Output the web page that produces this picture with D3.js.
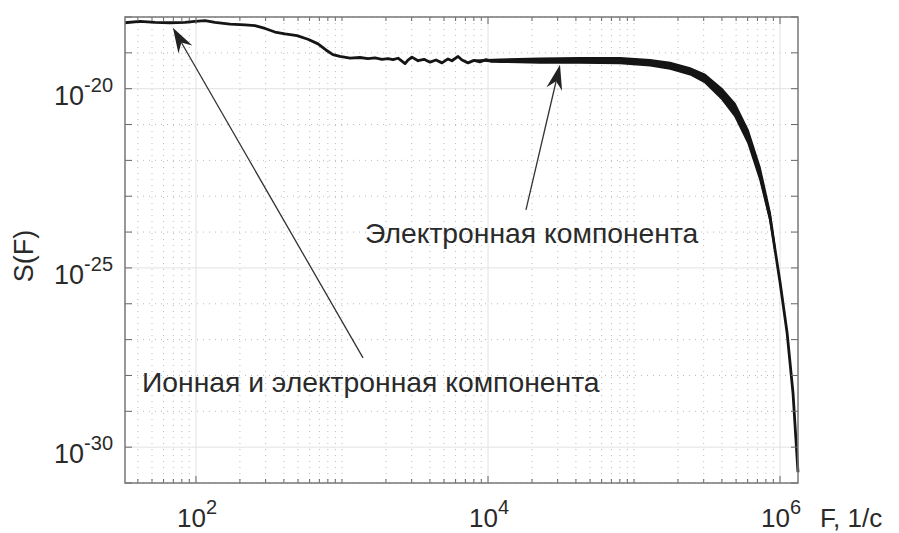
<!DOCTYPE html>
<html><head><meta charset="utf-8">
<script src="https://cdn.jsdelivr.net/npm/d3@7"></script>
<style>
body{margin:0;background:#fff;}
text{font-family:"Liberation Sans", Arial, sans-serif;fill:#2a2a2a;}
</style>
</head><body>
<svg id="c" width="899" height="533"></svg>
<script>
// ---- data (log10 values) ----
const logF = [1.514,1.616,1.719,1.822,1.925,1.993,2.062,2.130,2.233,2.336,2.404,2.473,2.541,2.610,2.692,2.767,2.836,2.890,2.938,2.986,3.055,3.123,3.178,3.226,3.274,3.315,3.349,3.384,3.432,3.452,3.479,3.521,3.562,3.603,3.644,3.685,3.726,3.753,3.795,3.822,3.863,3.904,3.945,3.986,4.027,4.082,4.356,4.630,4.904,5.110,5.247,5.384,5.486,5.603,5.692,5.781,5.863,5.932,5.966,6.000,6.048,6.089,6.123];
const logS = [-18.16,-18.12,-18.15,-18.16,-18.15,-18.12,-18.10,-18.15,-18.20,-18.22,-18.24,-18.32,-18.42,-18.47,-18.52,-18.62,-18.75,-18.92,-19.05,-19.10,-19.15,-19.13,-19.16,-19.14,-19.18,-19.16,-19.19,-19.15,-19.30,-19.20,-19.12,-19.22,-19.18,-19.26,-19.20,-19.28,-19.17,-19.22,-19.10,-19.20,-19.28,-19.21,-19.25,-19.19,-19.24,-19.22,-19.21,-19.20,-19.22,-19.27,-19.35,-19.51,-19.71,-20.15,-20.60,-21.35,-22.40,-23.60,-24.50,-25.40,-26.80,-28.50,-30.70];
// noise envelope of the dense high-frequency part
const bandLogF  = [3.904,4.082,4.356,4.630,4.904,5.110,5.247,5.384,5.486,5.603,5.692,5.781,5.863,5.932,5.966];
const bandUpper = [-19.21,-19.18,-19.15,-19.14,-19.14,-19.19,-19.27,-19.42,-19.60,-20.00,-20.42,-21.15,-22.20,-23.45,-24.45];
const bandLower = [-19.21,-19.26,-19.28,-19.28,-19.30,-19.36,-19.45,-19.61,-19.83,-20.30,-20.78,-21.52,-22.55,-23.70,-24.55];

const xDomainExp = [1.514, 6.123];
const yDomainExp = [-31, -18];
const xMajorExp = [2, 4, 6];
const yMajorExp = [-30, -25, -20];
const xLabel = "F, 1/c";
const yLabel = "S(F)";

// annotations
const annTexts = ["Электронная компонента", "Ионная и электронная компонента"];
const annTextExp = [[3.158, -24.30], [1.630, -28.46]];
const annTipExp  = [[4.493, -19.33], [1.842, -18.30]];
const annTailExp = [[4.260, -23.38], [3.144, -27.51]];

// ---- layout ----
const L = 125, R = 798, T = 17, B = 483;
const svg = d3.select("#c");
const x = d3.scaleLog().domain(xDomainExp.map(e => 10 ** e)).range([L, R]);
const y = d3.scaleLog().domain(yDomainExp.map(e => 10 ** e)).range([B, T]);

const data = logF.map((f, i) => ({F: 10 ** f, S: 10 ** logS[i]}));
const band = bandLogF.map((f, i) => ({F: 10 ** f, hi: 10 ** bandUpper[i], lo: 10 ** bandLower[i]}));

// tick sets
const xMinor = [], xMaj = [];
for (let e = 1; e <= 6; e++) {
  for (let m = 1; m <= 9; m++) {
    const v = m * 10 ** e;
    if (v < x.domain()[0] || v > x.domain()[1]) continue;
    if (m === 1 && xMajorExp.includes(e)) xMaj.push(v); else xMinor.push(v);
  }
}
const yMinor = [], yMaj = [];
for (let e = yDomainExp[0]; e <= yDomainExp[1]; e++) {
  const v = 10 ** e;
  if (yMajorExp.includes(e)) yMaj.push(v); else yMinor.push(v);
}

// grid
const g = svg.append("g");
g.selectAll(".gxm").data(xMinor).enter().append("line")
  .attr("x1", d => x(d)).attr("x2", d => x(d)).attr("y1", T).attr("y2", B)
  .attr("stroke", "#bbb").attr("stroke-width", 1).attr("stroke-dasharray", "1,5");
g.selectAll(".gym").data(yMinor).enter().append("line")
  .attr("y1", d => y(d)).attr("y2", d => y(d)).attr("x1", L).attr("x2", R)
  .attr("stroke", "#bbb").attr("stroke-width", 1).attr("stroke-dasharray", "1,5");
g.selectAll(".gxM").data(xMaj).enter().append("line")
  .attr("x1", d => x(d)).attr("x2", d => x(d)).attr("y1", T).attr("y2", B)
  .attr("stroke", "#e2e2e2").attr("stroke-width", 1);
g.selectAll(".gyM").data(yMaj).enter().append("line")
  .attr("y1", d => y(d)).attr("y2", d => y(d)).attr("x1", L).attr("x2", R)
  .attr("stroke", "#e2e2e2").attr("stroke-width", 1);

// band + curve
svg.append("path").datum(band)
  .attr("d", d3.area().x(d => x(d.F)).y0(d => y(d.lo)).y1(d => y(d.hi)))
  .attr("fill", "#151515").attr("stroke", "#151515").attr("stroke-width", 1.5);
svg.append("path").datum(data)
  .attr("d", d3.line().x(d => x(d.F)).y(d => y(d.S)))
  .attr("fill", "none").attr("stroke", "#151515").attr("stroke-width", 2.8)
  .attr("stroke-linejoin", "round");

// axes box and ticks (inside, all four sides)
const ax = svg.append("g").attr("stroke", "#666").attr("stroke-width", 1);
function ticks(vals, len, horizontal) {
  vals.forEach(v => {
    if (horizontal) {
      const px = x(v);
      ax.append("line").attr("x1", px).attr("x2", px).attr("y1", B).attr("y2", B - len);
      ax.append("line").attr("x1", px).attr("x2", px).attr("y1", T).attr("y2", T + len);
    } else {
      const py = y(v);
      ax.append("line").attr("y1", py).attr("y2", py).attr("x1", L).attr("x2", L + len);
      ax.append("line").attr("y1", py).attr("y2", py).attr("x1", R).attr("x2", R - len);
    }
  });
}
ticks(xMinor, 4, true); ticks(xMaj, 7, true);
ticks(yMinor, 7, false); ticks(yMaj, 7, false);
svg.append("rect").attr("x", L).attr("y", T).attr("width", R - L).attr("height", B - T)
  .attr("fill", "none").attr("stroke", "#777").attr("stroke-width", 1.5);

// tick labels
xMajorExp.forEach(e => {
  const t = svg.append("text").attr("x", x(10 ** e) - 19).attr("y", 527).attr("font-size", 26);
  t.append("tspan").text("10");
  t.append("tspan").attr("dy", -13).attr("font-size", 20).text(String(e));
});
yMajorExp.forEach(e => {
  const t = svg.append("text").attr("x", 113).attr("y", y(10 ** e) + 16)
    .attr("font-size", 27).attr("text-anchor", "end");
  t.append("tspan").text("10");
  t.append("tspan").attr("dy", -13).attr("font-size", 20).text(String(e));
});

// axis labels
svg.append("text").attr("x", 820).attr("y", 527).attr("font-size", 26).text(xLabel);
svg.append("text").attr("transform", "translate(33,256) rotate(-90)")
  .attr("text-anchor", "middle").attr("font-size", 27).text(yLabel);

// annotations
annTexts.forEach((s, i) => {
  const [tf, ts] = annTextExp[i];
  svg.append("text").attr("x", x(10 ** tf)).attr("y", y(10 ** ts))
    .attr("font-size", 28.3).text(s);
  const tip = [x(10 ** annTipExp[i][0]), y(10 ** annTipExp[i][1])];
  const tail = [x(10 ** annTailExp[i][0]), y(10 ** annTailExp[i][1])];
  const dx = tip[0] - tail[0], dy = tip[1] - tail[1];
  const len = Math.hypot(dx, dy);
  const ux = dx / len, uy = dy / len, nx = -uy, ny = ux;
  const HL = 25, HW = 8, NB = 17;
  const notch = [tip[0] - NB * ux, tip[1] - NB * uy];
  svg.append("line").attr("x1", tail[0]).attr("y1", tail[1]).attr("x2", notch[0]).attr("y2", notch[1])
    .attr("stroke", "#333").attr("stroke-width", 1.3);
  const p = [tip,
    [tip[0] - HL * ux + HW * nx, tip[1] - HL * uy + HW * ny],
    notch,
    [tip[0] - HL * ux - HW * nx, tip[1] - HL * uy - HW * ny]];
  svg.append("path").attr("d", "M" + p.map(q => q.join(",")).join("L") + "Z").attr("fill", "#222");
});
</script>
</body></html>
